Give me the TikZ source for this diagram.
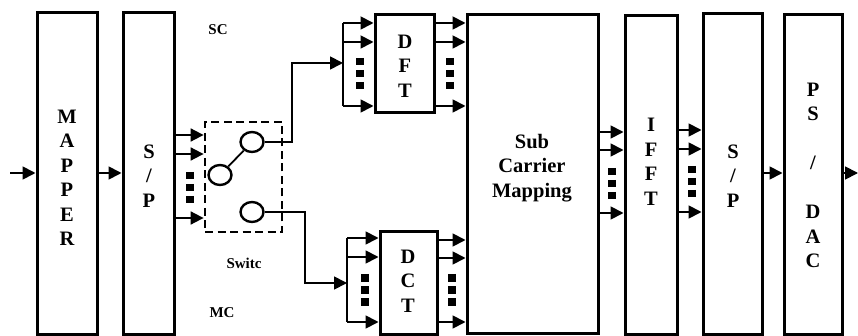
\documentclass[tikz,border=0pt]{standalone}
\usepackage{fontspec}
\setmainfont{Liberation Serif}
\usetikzlibrary{arrows.meta,shapes.geometric}
\begin{document}
\begin{tikzpicture}[x=1pt,y=-1pt,
  blk/.style args={#1/#2}{draw,line width=3pt,minimum width=#1,minimum height=#2,inner sep=0pt},
  txt/.style={font=\bfseries\fontsize{20.5}{24.5}\selectfont,align=center,inner sep=0pt},
  lbl/.style={font=\bfseries\fontsize{15}{16}\selectfont,inner sep=0pt},
  arr/.style={line width=1.8pt,-{Triangle[length=13pt,width=13pt]}},
  wire/.style={line width=1.8pt},
  sqdots/.style={line width=7.5pt,dash pattern=on 7.5pt off 4.5pt},
  sw/.style={draw,line width=2.4pt,ellipse,minimum width=23pt,minimum height=20pt,inner sep=0pt}]
\useasboundingbox (0,0) rectangle (858,336);

% blocks
\node[blk=60pt/321pt] (mapper) at (67,173.5) {};
\node[blk=51pt/321pt] (sp1) at (148.5,173.5) {};
\node[blk=59pt/98pt] (dft) at (404.5,64) {};
\node[blk=57pt/102pt] (dct) at (408.5,283) {};
\node[blk=131pt/318pt] (scm) at (532.5,174) {};
\node[blk=52pt/318pt] (ifft) at (651,175) {};
\node[blk=59pt/320pt] (sp2) at (732.5,174) {};
\node[blk=58pt/319pt] (psdac) at (813,174.5) {};

% block texts
\node[txt] (tmapper) at (67,178) {M\\A\\P\\P\\E\\R};
\node[txt] (tsp1) at (149,176) {S\\/\\P};
\node[txt] (tdft) at (405,66) {D\\F\\T};
\node[txt] (tdct) at (408,281) {D\\C\\T};
\node[txt] (tscm) at (532,168) {Sub\\Carrier\\Mapping};
\node[txt] (tifft) at (651,162) {I\\F\\F\\T};
\node[txt] (tsp2) at (733,176) {S\\/\\P};
\node[txt] (tpsdac) at (813,175.5) {P\\S\\[24.5pt]/\\[24.5pt]D\\A\\C};

% labels
\node[lbl] (sc) at (218,30) {SC};
\node[lbl] (swl) at (244,263) {Switc};
\node[lbl] (mc) at (222,313) {MC};

% switch
\node[draw,line width=2.8pt,dash pattern=on 8pt off 4.5pt,minimum width=77pt,minimum height=110pt,inner sep=0pt] (swbox) at (243.5,177) {};
\node[sw] (c1) at (252,142) {};
\node[sw] (c2) at (220,175) {};
\node[sw] (c3) at (252,212) {};
\draw[wire] (c2) -- (c1);

% coordinates
\coordinate (in) at (10,173);
\coordinate (out) at (858,173);
\coordinate (k1) at (292,142);
\coordinate (k2) at (305,212);
\coordinate (b1m) at (343,63);
\coordinate (b1t) at (343,23);
\coordinate (b1b) at (343,106);
\coordinate (b2m) at (347,283);
\coordinate (b2t) at (347,238);
\coordinate (b2b) at (347,322);

% main chain
\draw[arr] (in) -- (mapper.west |- in);
\draw[arr] (mapper.east |- in) -- (sp1.west |- in);
\foreach \y in {135,154,218} \draw[arr] (sp1.east |- 0,\y) -- (swbox.west |- 0,\y);
\draw[sqdots] (190,172) -- (190,207);

% switch outputs
\draw[arr] (c1.east) -- (k1) |- (b1m);
\draw[arr] (c3.east) -- (k2) |- (b2m);

% DFT branch
\draw[wire] (b1t) -- (b1b);
\foreach \y in {23,42,106} \draw[arr] (b1t |- 0,\y) -- (dft.west |- 0,\y);
\draw[sqdots] (360,58) -- (360,92);
\foreach \y in {23,42,106} \draw[arr] (dft.east |- 0,\y) -- (scm.west |- 0,\y);
\draw[sqdots] (450,58) -- (450,92);

% DCT branch
\draw[wire] (b2t) -- (b2b);
\foreach \y in {238,257,322} \draw[arr] (b2t |- 0,\y) -- (dct.west |- 0,\y);
\draw[sqdots] (365,274) -- (365,308);
\foreach \y in {240,258,322} \draw[arr] (dct.east |- 0,\y) -- (scm.west |- 0,\y);
\draw[sqdots] (452,274) -- (452,308);

% SCM -> IFFT
\foreach \y in {132,150,213} \draw[arr] (scm.east |- 0,\y) -- (ifft.west |- 0,\y);
\draw[sqdots] (612,168) -- (612,202);

% IFFT -> S/P
\foreach \y in {130,149,212} \draw[arr] (ifft.east |- 0,\y) -- (sp2.west |- 0,\y);
\draw[sqdots] (692,166) -- (692,200);

% S/P -> PS/DAC -> out
\draw[arr] (sp2.east |- in) -- (psdac.west |- in);
\draw[arr] (psdac.east |- out) -- (out);
\end{tikzpicture}
\end{document}
